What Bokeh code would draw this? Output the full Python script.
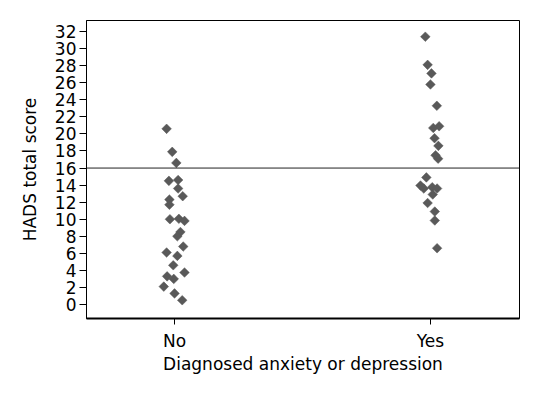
import math
from bokeh.plotting import figure
from bokeh.models import Span, FixedTicker, Range1d
from bokeh.embed import file_html
from bokeh.resources import INLINE

# Data (HADS total score by diagnosis)
categories = ["No", "Yes"]

no_scores = [20.6, 17.9, 16.6, 14.5, 14.6, 13.6, 12.7, 12.3, 11.7, 10.0, 10.05, 9.8,
             8.5, 8.0, 6.8, 6.1, 5.7, 4.6, 3.75, 3.3, 3.0, 2.1, 1.3, 0.5]
no_jitter = [-0.031, -0.009, 0.007, -0.022, 0.014, 0.014, 0.032, -0.020, -0.020, -0.018,
             0.017, 0.039, 0.023, 0.011, 0.034, -0.031, 0.011, -0.005, 0.039, -0.029,
             -0.003, -0.042, 0.0, 0.030]

yes_scores = [31.4, 28.1, 27.1, 25.8, 23.3, 20.7, 20.9, 19.5, 18.6, 17.5, 17.1, 14.9,
              13.95, 13.6, 13.75, 13.6, 12.9, 11.9, 10.9, 9.85, 6.6]
yes_jitter = [-0.020, -0.011, 0.004, 0.0, 0.025, 0.011, 0.034, 0.016, 0.031, 0.020,
              0.030, -0.016, -0.039, -0.026, 0.007, 0.026, 0.009, -0.011, 0.017, 0.017,
              0.026]

cutoff = 16
y_ticks = list(range(0, 33, 2))

xs = [0 + j for j in no_jitter] + [1 + j for j in yes_jitter]
ys = no_scores + yes_scores

FONT = "DejaVu Sans"

p = figure(width=521, height=377, output_backend="svg", toolbar_location=None,
           x_range=Range1d(-0.344, 1.348), y_range=Range1d(-1.64, 33.3),
           min_border_left=86, min_border_right=2, min_border_top=20,
           min_border_bottom=59)

p.scatter(xs, ys, marker="square", angle=math.pi / 4, size=6.8,
          fill_color="#595959", line_color="#595959", line_width=0.5)

p.add_layout(Span(location=cutoff, dimension="width", line_color="#222222",
                  line_width=1))

p.xgrid.visible = False
p.ygrid.visible = False
p.outline_line_color = "black"
p.outline_line_width = 1
p.outline_line_alpha = 1

p.xaxis.ticker = FixedTicker(ticks=[0, 1])
p.xaxis.major_label_overrides = {0: categories[0], 1: categories[1]}
p.yaxis.ticker = FixedTicker(ticks=y_ticks)

p.xaxis.axis_label = "Diagnosed anxiety or depression"
p.yaxis.axis_label = "HADS total score"

for ax in (p.xaxis[0], p.yaxis[0]):
    ax.axis_line_color = "black"
    ax.major_tick_line_color = "black"
    ax.minor_tick_line_color = None
    ax.major_tick_in = 0
    ax.major_label_text_font = FONT
    ax.major_label_text_font_size = "17px"
    ax.major_label_text_color = "black"
    ax.axis_label_text_font = FONT
    ax.axis_label_text_font_size = "17px"
    ax.axis_label_text_font_style = "normal"
    ax.axis_label_text_color = "black"

p.xaxis.axis_line_width = 2
p.xaxis.major_tick_out = 6
p.xaxis.major_label_standoff = 6
p.xaxis.axis_label_standoff = 0
p.yaxis.major_tick_out = 7
p.yaxis.major_label_standoff = 3
p.yaxis.axis_label_standoff = 12
p.yaxis.major_label_orientation = "horizontal"

open("out.html", "w").write(file_html(p, INLINE))
